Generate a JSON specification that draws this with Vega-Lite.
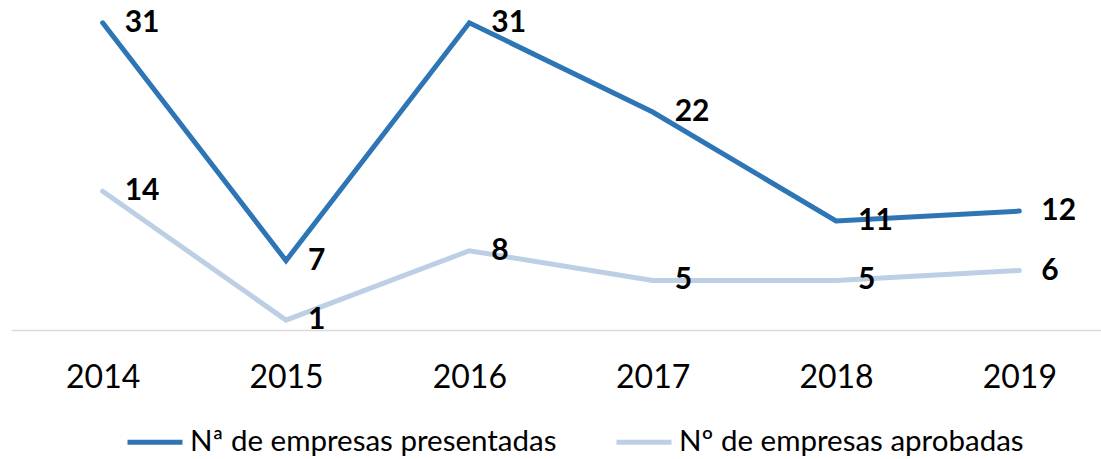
{
  "$schema": "https://vega.github.io/schema/vega-lite/v6.json",
  "width": 1090,
  "height": 330,
  "autosize": "none",
  "padding": {"left": 11, "top": 0, "right": 0, "bottom": 129},
  "config": {"view": {"stroke": null}, "font": "Lato"},
  "data": {
    "values": [
      {"year": "2014", "serie": "Nª de empresas presentadas", "value": 31},
      {"year": "2015", "serie": "Nª de empresas presentadas", "value": 7},
      {"year": "2016", "serie": "Nª de empresas presentadas", "value": 31},
      {"year": "2017", "serie": "Nª de empresas presentadas", "value": 22},
      {"year": "2018", "serie": "Nª de empresas presentadas", "value": 11},
      {"year": "2019", "serie": "Nª de empresas presentadas", "value": 12},
      {"year": "2014", "serie": "Nº de empresas aprobadas", "value": 14},
      {"year": "2015", "serie": "Nº de empresas aprobadas", "value": 1},
      {"year": "2016", "serie": "Nº de empresas aprobadas", "value": 8},
      {"year": "2017", "serie": "Nº de empresas aprobadas", "value": 5},
      {"year": "2018", "serie": "Nº de empresas aprobadas", "value": 5},
      {"year": "2019", "serie": "Nº de empresas aprobadas", "value": 6}
    ]
  },
  "encoding": {
    "x": {
      "field": "year",
      "type": "ordinal",
      "scale": {"range": [0, 1100], "padding": 0.5},
      "axis": {
        "title": null,
        "ticks": false,
        "labelAngle": 0,
        "labelFontSize": 32,
        "labelColor": "#000000",
        "labelFont": "Lato",
        "labelPadding": 32,
        "domainColor": "#d9d9d9",
        "domainWidth": 1.5
      }
    },
    "y": {
      "field": "value",
      "type": "quantitative",
      "scale": {"domain": [0, 33.3], "nice": false, "zero": true},
      "axis": null
    }
  },
  "layer": [
    {
      "mark": {"type": "line", "strokeWidth": 5, "strokeCap": "round", "strokeJoin": "miter"},
      "encoding": {
        "color": {
          "field": "serie",
          "type": "nominal",
          "scale": {
            "domain": ["Nª de empresas presentadas", "Nº de empresas aprobadas"],
            "range": ["#2e75b6", "#bccfe4"]
          },
          "legend": {
            "orient": "none",
            "legendX": 114,
            "legendY": 412,
            "direction": "horizontal",
            "title": null,
            "symbolType": "stroke",
            "symbolSize": 3025,
            "symbolStrokeWidth": 5,
            "labelFontSize": 29.5,
            "labelColor": "#000000",
            "labelFont": "Lato",
            "labelOffset": 5,
            "columnPadding": 49,
            "labelLimit": 0
          }
        },
        "order": {"field": "year"}
      }
    },
    {
      "mark": {"type": "text", "align": "left", "baseline": "middle", "dx": 22, "fontSize": 30, "fontWeight": "bold", "font": "Lato", "color": "#000000"},
      "encoding": {
        "text": {"field": "value", "type": "quantitative"}
      }
    }
  ]
}
